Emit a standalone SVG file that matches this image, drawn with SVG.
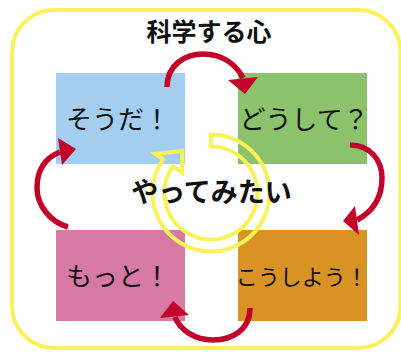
<svg xmlns="http://www.w3.org/2000/svg" width="401" height="352" viewBox="0 0 401 352">
  <style>
    .lbl { font-family: "Noto Sans CJK JP", "Noto Sans", sans-serif; fill: #111; }
    .bold { font-weight: bold; }
    .conn { fill: none; stroke: #C3002B; stroke-width: 5.5; }
    .head { fill: #C3002B; }
    .ring { fill: none; stroke: #F8F15A; stroke-width: 4; stroke-linejoin: miter; }
  </style>
  <rect id="frame" x="12" y="10" width="388.5" height="338" rx="42" ry="42" fill="#fff" stroke="#F8F15A" stroke-width="4"/>
  <g id="title"><text class="lbl bold" x="209" y="41" font-size="25" text-anchor="middle">科学する心</text></g>

  <g id="node-souda">
    <rect x="56" y="73" width="129" height="91" fill="#A3CEF0"/>
    <text class="lbl" x="66" y="128.5" font-size="26">そうだ！</text>
  </g>
  <g id="node-doushite">
    <rect x="238" y="73" width="129" height="91" fill="#8CC26C"/>
    <text class="lbl" x="239.5" y="128.5" font-size="26">どうして？</text>
  </g>
  <g id="node-koushiyou">
    <rect x="238" y="230" width="129" height="91" fill="#D99224"/>
    <text class="lbl" x="235.7" y="285" font-size="22">こうしよう！</text>
  </g>
  <g id="node-motto">
    <rect x="56" y="230" width="129" height="91" fill="#D679A5"/>
    <text class="lbl" x="66" y="286" font-size="26">もっと！</text>
  </g>

  <g id="connectors">
    <path class="conn" d="M167,87 C167,65 185,54 203,54 C222,54 236,64 243,78"/>
    <polygon class="head" points="228,80 258,77 245,94"/>
    <path class="conn" d="M350,145 C370,145 382,160 382,178 C382,198 372,212 357,220"/>
    <polygon class="head" points="355,206 359,235 343,221"/>
    <path class="conn" d="M250,308 C250,330 232,340 213,340 C195,340 180,330 175,317"/>
    <polygon class="head" points="160,318 189,315 173,301"/>
    <path class="conn" d="M68,227 C50,222 37,205 37,188 C37,170 45,158 60,152"/>
    <polygon class="head" points="58,138 62,165 76,149"/>
  </g>

  <g id="cycle">
    <path class="ring" d="M211,134.5 A58.5,58.5 0 1 1 163.1,159.4 L155.3,154 L182,151 L182.3,172.9 L172.9,166.3 A46.5,46.5 0 1 0 211,146.5 Z"/>
    <text class="lbl bold" x="211.5" y="202" font-size="27" text-anchor="middle">やってみたい</text>
  </g>
</svg>
